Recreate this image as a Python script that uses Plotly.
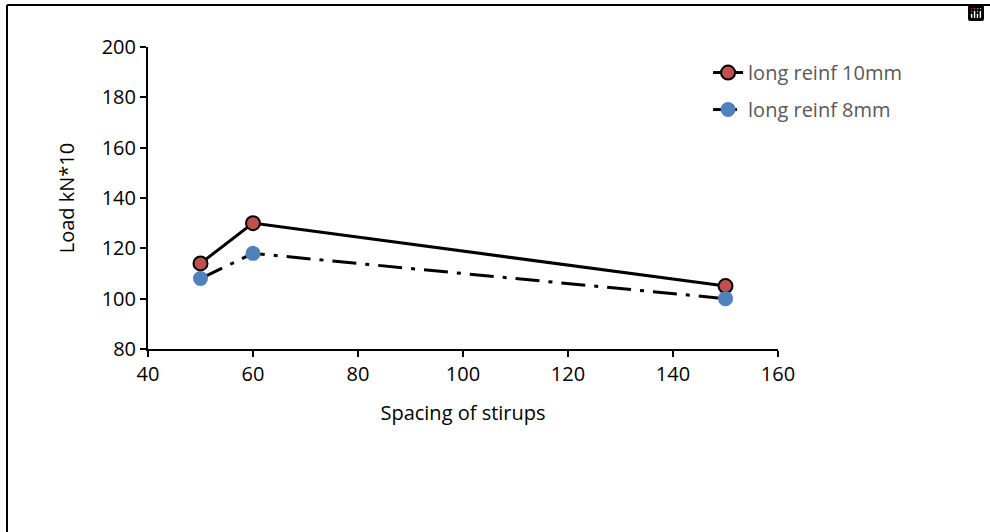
import plotly.graph_objects as go

spacing = [50, 60, 150]
load_10mm = [114, 130, 105]
load_8mm = [108, 118, 100]
x_ticks = [40, 60, 80, 100, 120, 140, 160]
y_ticks = [80, 100, 120, 140, 160, 180, 200]

FONT = "Open Sans"

fig = go.Figure()
fig.add_trace(go.Scatter(
    x=spacing, y=load_10mm, name="long reinf 10mm", mode="lines+markers",
    line=dict(color="black", width=3),
    marker=dict(size=14, color="#C0504D", line=dict(color="black", width=2)),
    legendgroup="a",
))
fig.add_trace(go.Scatter(
    x=spacing, y=load_8mm, name="long reinf 8mm", mode="lines+markers",
    line=dict(color="black", width=3, dash="24px,9px,4px,9px"),
    marker=dict(size=15, color="#4F81BD", line=dict(width=0)),
    legendgroup="b",
))

bx0 = (7 - 148) / 630
by1 = (349 - 5) / 302

fig.update_layout(
    width=990, height=532,
    margin=dict(l=148, r=212, t=47, b=183, autoexpand=False),
    plot_bgcolor="white", paper_bgcolor="white",
    font=dict(family=FONT, color="black", size=20),
    showlegend=True,
    modebar=dict(bgcolor="rgba(0,0,0,0)", color="rgba(0,0,0,0)", activecolor="rgba(0,0,0,0)"),
    legend=dict(x=0.889, y=0.98, xanchor="left", yanchor="top",
                font=dict(size=20, color="#595959", family=FONT),
                tracegroupgap=8, bgcolor="rgba(0,0,0,0)"),
    xaxis=dict(range=[40, 160], tickvals=x_ticks, showgrid=False, zeroline=False,
               showline=True, linecolor="black", linewidth=2,
               ticks="outside", ticklen=6, tickwidth=2, tickcolor="black",
               automargin=False,
               tickfont=dict(size=20, family=FONT),
               title=dict(text="Spacing of stirups", font=dict(size=20, family=FONT), standoff=20)),
    yaxis=dict(range=[80, 200], tickvals=y_ticks, showgrid=False, zeroline=False,
               showline=True, linecolor="black", linewidth=2,
               ticks="outside", ticklen=6, tickwidth=2, tickcolor="black",
               automargin=False,
               tickfont=dict(size=20, family=FONT),
               title=dict(text="Load kN*10", font=dict(size=20, family=FONT), standoff=22)),
    shapes=[
        dict(type="line", xref="paper", yref="paper", x0=bx0, x1=bx0, y0=-0.65, y1=by1,
             line=dict(color="black", width=2), layer="above"),
        dict(type="line", xref="paper", yref="paper", x0=bx0, x1=1.35, y0=by1, y1=by1,
             line=dict(color="black", width=2), layer="above"),
    ],
)

fig.write_html("out.html", post_script="document.body.style.margin='0';")
